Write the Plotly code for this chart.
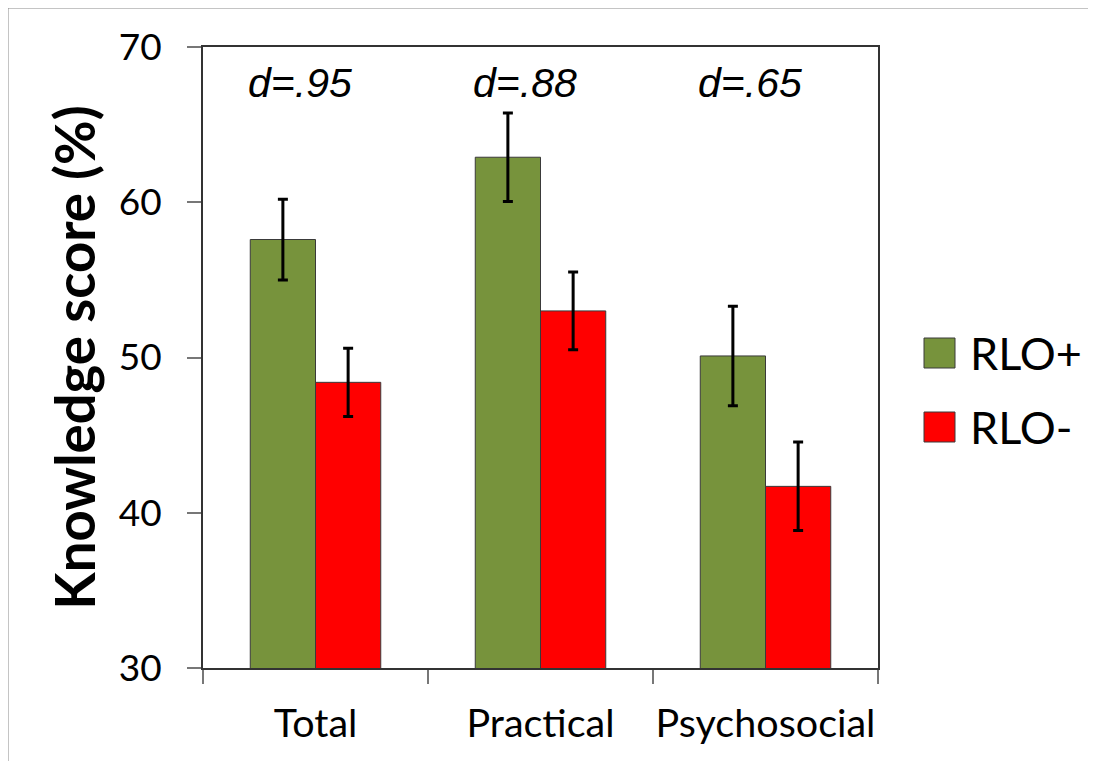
import plotly.graph_objects as go

categories = ["Total", "Practical", "Psychosocial"]
series_names = ["RLO+", "RLO-"]
rlo_plus = [57.6, 62.9, 50.1]
rlo_plus_err = [2.6, 2.85, 3.2]
rlo_minus = [48.4, 53.0, 41.7]
rlo_minus_err = [2.2, 2.5, 2.85]
effect_labels = ["d=.95", "d=.88", "d=.65"]
y_ticks = [30, 40, 50, 60, 70]

colors = ["#77933C", "#FF0000"]
values = [rlo_plus, rlo_minus]
errors = [rlo_plus_err, rlo_minus_err]

fig = go.Figure()
for name, vals, errs, col in zip(series_names, values, errors, colors):
    fig.add_trace(go.Bar(
        x=categories, y=vals, name=name,
        marker=dict(color=col, line=dict(color="#3a3a3a", width=1)),
        error_y=dict(type="data", array=errs, visible=True,
                     color="black", thickness=3, width=5),
        showlegend=False,
    ))

annotations = []
for cat, lab in zip(categories, effect_labels):
    annotations.append(dict(
        x=cat, y=67.7, xref="x", yref="y", text="<i>" + lab + "</i>",
        showarrow=False, xshift=-16,
        font=dict(family="Liberation Sans", size=41, color="black"),
    ))

# page offset (browser body margin) and plot-area geometry in page pixels
OFF = 8
L = 203; R = 878; T = 47; B = 668
W = R - L; H = B - T
def px(x):
    return (x - L) / W
def py(y):
    return (B - y) / H

shapes = []
leg_rows = [353, 427]
for name, col, yc in zip(series_names, colors, leg_rows):
    shapes.append(dict(type="rect", xref="paper", yref="paper",
                       x0=px(924), x1=px(955), y0=py(yc - 15), y1=py(yc + 15),
                       fillcolor=col, line=dict(color="#3a3a3a", width=1)))
    annotations.append(dict(x=px(968), y=py(yc), xref="paper", yref="paper",
                            text=name, showarrow=False, xanchor="left", yanchor="middle",
                            font=dict(family="Lato", size=45, color="black")))

# outer gray frame (top and left edges)
shapes.append(dict(type="line", xref="paper", yref="paper",
                   x0=px(7.5), x1=px(1096), y0=py(7.5), y1=py(7.5),
                   line=dict(color="#8a8a8a", width=2)))
shapes.append(dict(type="line", xref="paper", yref="paper",
                   x0=px(7.5), x1=px(7.5), y0=py(7.5), y1=py(761),
                   line=dict(color="#8a8a8a", width=2)))

fig.update_layout(
    width=1096 - OFF, height=761 - OFF,
    margin=dict(l=L - OFF, r=1096 - R, t=T - OFF, b=761 - B, autoexpand=False),
    paper_bgcolor="white", plot_bgcolor="white",
    barmode="group", bargap=0.42, bargroupgap=0,
    annotations=annotations, shapes=shapes,
    xaxis=dict(
        showline=True, linecolor="#333333", linewidth=2, mirror=True,
        ticks="outside", ticklen=14, tickcolor="#777777", tickwidth=1.5,
        tickson="boundaries", ticklabelstandoff=20, tickangle=0,
        automargin=False,
        tickfont=dict(family="Lato", size=39.5, color="black"),
        showgrid=False,
    ),
    yaxis=dict(
        range=[30, 70], tickvals=y_ticks,
        showline=True, linecolor="#333333", linewidth=2, mirror=True,
        ticks="outside", ticklen=14, tickcolor="#777777", tickwidth=1.5,
        ticklabelstandoff=18, automargin=False,
        tickfont=dict(family="Lato", size=37, color="black"),
        showgrid=False, zeroline=False,
        title=dict(text="<b>Knowledge score (%)</b>", standoff=6,
                   font=dict(family="Lato", size=54.5, color="black")),
    ),
)

fig.write_html("out.html")
